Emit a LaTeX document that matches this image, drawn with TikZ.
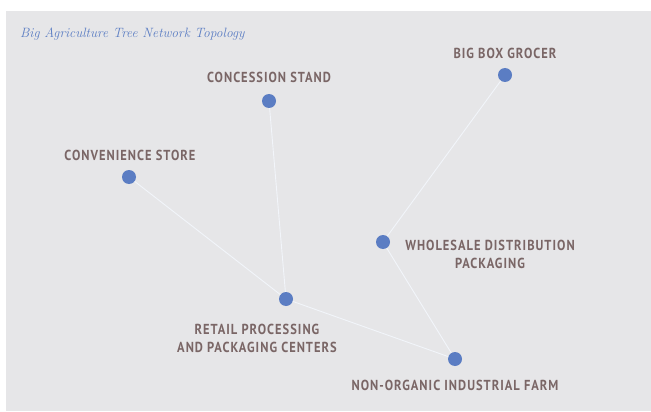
\documentclass[tikz,border=0pt]{standalone}
\usepackage{fontspec}
\newfontfamily\labelfont[FakeStretch=0.86,LetterSpace=7]{PT Sans Bold}
\definecolor{panelgray}{HTML}{E6E6E8}
\definecolor{dotblue}{HTML}{5B7DC3}
\definecolor{labelbrown}{HTML}{7A6666}
\definecolor{linkwhite}{HTML}{F2F5FA}
\tikzset{
  site/.style={circle,fill=dotblue,inner sep=0pt,minimum size=14pt},
  sitelabel/.style={text=labelbrown,font=\labelfont\fontsize{14.5}{18}\selectfont,align=center,inner sep=0pt},
  link/.style={draw=linkwhite,line width=0.9pt}
}
\begin{document}
\begin{tikzpicture}[x=1pt,y=-1pt]
\useasboundingbox[fill=white] (0,0) rectangle (651,412);
\fill[panelgray] (6,11) rectangle (651,411);
\node[anchor=west,inner sep=0pt,text=dotblue,font=\itshape\fontsize{13.5}{16}\selectfont] (title) at (20,34) {Big Agriculture Tree Network Topology};

\node[site] (stand) at (269,101) {}; % concession
\node[site] (grocer) at (505,75) {}; % big box
\node[site] (store) at (129,177) {}; % convenience
\node[site] (wholesale) at (383,242) {};
\node[site] (retail) at (286,299) {};
\node[site] (farm) at (455,359) {};

\draw[link] (stand) -- (retail);
\draw[link] (store) -- (retail);
\draw[link] (retail) -- (farm);
\draw[link] (farm) -- (wholesale);
\draw[link] (wholesale) -- (grocer);

\node[sitelabel] (standtxt) at (269,77) {CONCESSION STAND};
\node[sitelabel] (grocertxt) at (505,53) {BIG BOX GROCER};
\node[sitelabel] (storetxt) at (130,155) {CONVENIENCE STORE};
\node[sitelabel] (wholesaletxt) at (490,254) {WHOLESALE DISTRIBUTION\\PACKAGING};
\node[sitelabel] (retailtxt) at (257,338) {RETAIL PROCESSING\\AND PACKAGING CENTERS};
\node[sitelabel] (farmtxt) at (455,385) {NON-ORGANIC INDUSTRIAL FARM};
\end{tikzpicture}
\end{document}
